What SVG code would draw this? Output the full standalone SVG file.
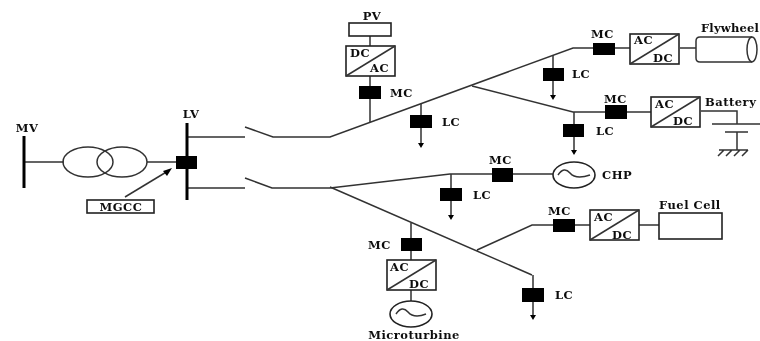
<svg xmlns="http://www.w3.org/2000/svg" width="760" height="341" viewBox="0 0 760 341">
<style>
.w{fill:none;stroke:#333;stroke-width:1.5}
.h{fill:none;stroke:#000;stroke-width:3}
.b{fill:#000;stroke:none}
.o{fill:#fff;stroke:#222;stroke-width:1.6}
.t{font-family:"DejaVu Serif","Liberation Serif",serif;font-weight:bold;font-size:11.5px;fill:#111;letter-spacing:.5px}
.m{text-anchor:middle}
</style>
<defs>
<filter id="soft" x="0" y="0" width="100%" height="100%"><feGaussianBlur stdDeviation="0.6"/></filter>
<g id="conv"><rect class="o" x="0" y="0" width="49" height="30"/><path class="w" d="M0 30L49 0"/></g>
</defs>
<rect width="760" height="341" fill="#fff"/>
<g filter="url(#soft)">
<g id="connectors">
<path class="w" d="M24 162H64M147 162H176"/>
<path class="w" d="M187 137H245M245 127L273 137H330L573 48H593M615 48H630M680 48H696"/>
<path class="w" d="M472 86L573 112H605M627 112H651"/>
<path class="w" d="M187 188H245M245 178L272 188H330L450 174H492M513 174H553"/>
<path class="w" d="M330 187L532 275M477 250L532 225H553M575 225H590M639 225H659"/>
<path class="w" d="M370 36V46M370 76V122M421 104V143"/>
<path class="w" d="M553 55V95M574 112V150M451 174V215M533 275V315M411 223V260M411 290V301"/>
<path class="w" d="M701 111H737V124M712 124H760M725 132H748M737 132V150M719 150H748M724 150L718 156M732 150L726 156M740 150L734 156M748 150L742 156"/>
<path class="w" d="M125 197L168 171"/>
<path class="b" d="M172 168L163 171L167 176Z"/>
<path class="b" d="M418 143H424L421 148ZM550 95H556L553 100ZM571 150H577L574 155ZM448 215H454L451 220ZM530 315H536L533 320Z"/>
</g>
<g id="mv-bus"><path class="h" d="M24 136V188"/><text class="t m" x="27" y="132">MV</text></g>
<g id="transformer"><ellipse cx="88" cy="162" rx="25" ry="15" class="w"/><ellipse cx="122" cy="162" rx="25" ry="15" class="w"/></g>
<g id="lv-bus"><path class="h" d="M187 123V200"/><rect class="b" x="176" y="156" width="21" height="13"/><text class="t m" x="191" y="118">LV</text></g>
<g id="mgcc"><rect class="o" x="87" y="200" width="67" height="13"/><text class="t m" x="121" y="211">MGCC</text></g>
<g id="pv"><rect class="o" x="349" y="23" width="42" height="13"/><text class="t m" x="372" y="20">PV</text></g>
<g id="pv-conv"><use href="#conv" x="346" y="46"/><text class="t" x="350" y="57">DC</text><text class="t" x="370" y="72">AC</text></g>
<g id="mc-pv"><rect class="b" x="359" y="86" width="22" height="13"/><text class="t" x="390" y="97">MC</text></g>
<g id="lc-1"><rect class="b" x="410" y="115" width="22" height="13"/><text class="t" x="442" y="126">LC</text></g>
<g id="mc-flywheel"><rect class="b" x="593" y="43" width="22" height="12"/><text class="t" x="591" y="38">MC</text></g>
<g id="flywheel-conv"><use href="#conv" x="630" y="34"/><text class="t" x="634" y="44">AC</text><text class="t" x="653" y="62">DC</text></g>
<g id="flywheel"><path class="w" d="M752 37H700Q696 37 696 41V58Q696 62 700 62H752"/><ellipse class="w" cx="752" cy="49.500" rx="5" ry="12.500"/><text class="t" x="701" y="32" style="letter-spacing:.2px">Flywheel</text></g>
<g id="lc-2"><rect class="b" x="543" y="68" width="21" height="13"/><text class="t" x="572" y="78">LC</text></g>
<g id="mc-battery"><rect class="b" x="605" y="105" width="22" height="14"/><text class="t" x="604" y="103">MC</text></g>
<g id="battery-conv"><use href="#conv" x="651" y="97"/><text class="t" x="655" y="108">AC</text><text class="t" x="673" y="125">DC</text></g>
<g id="battery"><text class="t" x="705" y="106">Battery</text></g>
<g id="lc-3"><rect class="b" x="563" y="124" width="21" height="13"/><text class="t" x="596" y="135">LC</text></g>
<g id="mc-chp"><rect class="b" x="492" y="168" width="21" height="14"/><text class="t" x="489" y="164">MC</text></g>
<g id="chp"><ellipse class="o" cx="574" cy="175" rx="21" ry="13"/><path class="w" d="M558 175Q564 166 570 173T590 175"/><text class="t" x="602" y="179">CHP</text></g>
<g id="lc-4"><rect class="b" x="440" y="188" width="22" height="13"/><text class="t" x="473" y="199">LC</text></g>
<g id="mc-fuel"><rect class="b" x="553" y="219" width="22" height="13"/><text class="t" x="548" y="215">MC</text></g>
<g id="fuel-conv"><use href="#conv" x="590" y="210"/><text class="t" x="594" y="221">AC</text><text class="t" x="612" y="239">DC</text></g>
<g id="fuel-cell"><rect class="o" x="659" y="213" width="63" height="26"/><text class="t" x="659" y="209">Fuel Cell</text></g>
<g id="lc-5"><rect class="b" x="522" y="288" width="22" height="14"/><text class="t" x="555" y="299">LC</text></g>
<g id="mc-micro"><rect class="b" x="401" y="238" width="21" height="13"/><text class="t" x="368" y="249">MC</text></g>
<g id="micro-conv"><use href="#conv" x="387" y="260"/><text class="t" x="390" y="271">AC</text><text class="t" x="409" y="288">DC</text></g>
<g id="microturbine"><ellipse class="o" cx="411" cy="314" rx="21" ry="13"/><path class="w" d="M396 314Q402 305 408 312T426 314"/><text class="t m" x="414" y="339">Microturbine</text></g>
</g>
</svg>
